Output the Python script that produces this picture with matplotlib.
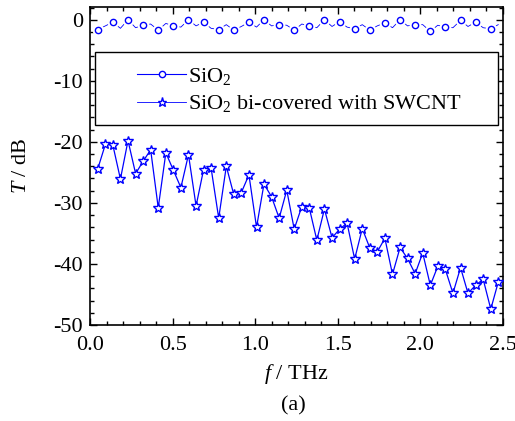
import numpy as np
import matplotlib
matplotlib.use("Agg")
import matplotlib.pyplot as plt
from matplotlib.patches import Rectangle
from matplotlib.ticker import MultipleLocator, FormatStrFormatter

plt.rcParams['font.family'] = ['Liberation Serif', 'DejaVu Serif']
plt.rcParams['mathtext.fontset'] = 'custom'
plt.rcParams['mathtext.rm'] = 'Liberation Serif'
plt.rcParams['mathtext.it'] = 'Liberation Serif:italic'
plt.rcParams['axes.unicode_minus'] = False

# frequency samples (THz)
freq = [0.047, 0.093, 0.138, 0.184, 0.230, 0.276, 0.321, 0.367, 0.413, 0.459,
        0.504, 0.550, 0.596, 0.642, 0.687, 0.733, 0.779, 0.825, 0.870, 0.916,
        0.962, 1.008, 1.053, 1.099, 1.145, 1.191, 1.236, 1.282, 1.328, 1.373,
        1.419, 1.465, 1.511, 1.556, 1.602, 1.648, 1.694, 1.739, 1.785, 1.831,
        1.877, 1.922, 1.968, 2.014, 2.060, 2.105, 2.151, 2.197, 2.243, 2.288,
        2.334, 2.380, 2.426, 2.471]

# bare SiO2 transmission (dB)
t_sio2 = [-1.6, -1.0, -0.4, -1.4, 0.0, -1.3, -0.9, -0.7, -1.7, -0.6,
          -1.0, -1.2, 0.0, -1.0, -0.4, -1.4, -1.6, -0.8, -1.7, -1.1,
          -0.4, -1.2, 0.0, -1.0, -0.8, -0.9, -1.7, -0.7, -1.0, -1.3,
          0.0, -1.1, -0.3, -1.2, -1.5, -0.8, -1.7, -1.0, -0.5, -1.3,
          0.0, -1.0, -0.8, -0.8, -1.9, -0.9, -1.2, -1.3, -0.1, -1.1,
          -0.4, -1.3, -1.5, -0.8]

# SiO2 bi-covered with SWCNT (dB)
t_swcnt = [-24.4, -20.4, -20.5, -26.1, -19.8, -25.2, -23.2, -21.3, -30.8, -21.8,
           -24.6, -27.5, -22.1, -30.5, -24.6, -24.3, -32.5, -24.0, -28.6, -28.3,
           -25.4, -34.0, -26.9, -29.0, -32.5, -27.9, -34.3, -30.6, -30.9, -36.1,
           -31.0, -35.7, -34.3, -33.3, -39.2, -34.2, -37.4, -38.0, -35.8, -41.7,
           -37.3, -39.1, -41.6, -38.2, -43.5, -40.4, -40.9, -44.8, -40.6, -44.8,
           -43.5, -42.5, -47.4, -43.0]

blue = '#0000ff'
fs = 16

fig = plt.figure(figsize=(5.15, 4.21), dpi=100)
ax = fig.add_axes([0.1748, 0.228, 0.8019, 0.7555])

# SiO2: thin line, circles on every other sample with a white gap around them
ax.plot(freq, t_sio2, color=blue, lw=0.6, zorder=2)
ax.plot(freq[::2], t_sio2[::2], ls='none', marker='o', ms=8.5, mfc='white',
        mec='none', zorder=3)
ax.plot(freq[::2], t_sio2[::2], ls='none', marker='o', ms=4.5, mfc='white',
        mec=blue, mew=1.0, zorder=4)

ax.plot(freq, t_swcnt, color=blue, lw=0.9, marker='*', ms=7.5, mfc='white',
        mec=blue, mew=1.0, zorder=4)

ax.set_xlim(0, 2.5)
ax.set_ylim(-50, 2.1)
ax.xaxis.set_major_locator(MultipleLocator(0.5))
ax.xaxis.set_minor_locator(MultipleLocator(0.1))
ax.yaxis.set_major_locator(MultipleLocator(10))
ax.yaxis.set_minor_locator(MultipleLocator(2))
ax.tick_params(which='both', direction='in', top=True, right=True,
               labelsize=fs, width=1.0)
ax.tick_params(which='major', length=5)
ax.tick_params(which='minor', length=3)
ax.tick_params(axis='y', pad=5)
ax.tick_params(axis='x', pad=8)
ax.xaxis.set_major_formatter(FormatStrFormatter('%.1f'))
for s in ax.spines.values():
    s.set_linewidth(1.2)

ax.set_xlabel('$f$ / THz', fontsize=fs, labelpad=5)
ax.set_ylabel('$T$ / dB', fontsize=fs, labelpad=16)

# legend box
ax.add_patch(Rectangle((0.012, 0.629), 0.976, 0.229, transform=ax.transAxes,
                       facecolor='white', edgecolor='black', lw=1.0, zorder=5))
h1, = ax.plot([], [], color=blue, lw=0.8, marker='o', ms=4.5, mfc='white', mec=blue)
h2, = ax.plot([], [], color=blue, lw=0.6, marker='*', ms=6.5, mfc='white', mec=blue)
leg = ax.legend([h1, h2], ['SiO$_2$', 'SiO$_2$ bi-covered with SWCNT'],
                loc='upper left', bbox_to_anchor=(0.114, 0.815), frameon=False,
                fontsize=fs, handlelength=2.2, handletextpad=0.1,
                labelspacing=0.3, borderaxespad=0, borderpad=0)
leg.set_zorder(6)

fig.text(0.57, 0.035, '(a)', ha='center', va='center', fontsize=fs)

fig.savefig('out.png', dpi=100)
